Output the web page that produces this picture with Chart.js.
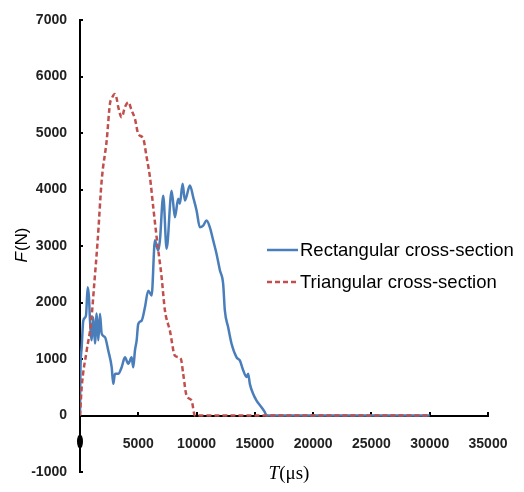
<!DOCTYPE html>
<html>
<head>
<meta charset="utf-8">
<script src="https://cdn.jsdelivr.net/npm/chart.js@4"></script>
<style>
  html, body { margin: 0; padding: 0; background: #fff; }
  #wrap { width: 524px; height: 492px; }
</style>
</head>
<body>
<div id="wrap"><canvas id="forceChart" width="524" height="492"></canvas></div>
<script>
// ============================================
// DATA
// ============================================
const seriesNames = ['Rectangular cross-section', 'Triangular cross-section'];

// Rectangular cross-section: time (µs) and force (N)
const rectT = [0, 30, 146, 283, 514, 660, 771, 857, 1003, 1140, 1286, 1431, 1568, 1714, 1860,
  2143, 2425, 2717, 2854, 3000, 3282, 3574, 3857, 4140, 4430, 4568, 4714, 4860, 4996, 5288,
  5570, 5853, 6145, 6428, 6710, 6856, 7140, 7430, 7860, 8140, 8425, 8570, 8800, 9000, 9430,
  9710, 10000, 10285, 10565, 10860, 11140, 11425, 11715, 12000, 12280, 12425, 12710, 13000,
  13430, 13710, 14000, 14285, 14425, 14570, 14850, 15145, 15570, 15855, 16000, 30000];
const rectF = [0, 700, 1210, 1680, 1770, 2270, 2090, 1680, 1330, 1740, 1275, 1805, 1330, 1800, 1450,
  1385, 1150, 855, 560, 740, 740, 855, 1030, 915, 1030, 855, 1150, 1330, 1620, 1680,
  1915, 2210, 2125, 3100, 2920, 3100, 3890, 2950, 3980, 3510, 3835, 3750, 4100, 3805, 4070,
  3865, 3630, 3330, 3360, 3450, 3330, 3100, 2860, 2570, 2330, 1860, 1560, 1270,
  1030, 975, 800, 680, 740, 560, 385, 265, 147, 60, 0, 0];

// Triangular cross-section: time (µs) and force (N)
const triT = [0, 146, 574, 943, 1225, 1517, 1860, 2290, 2570, 2717, 3000, 3145, 3282, 3574,
  3857, 4140, 4430, 4714, 4996, 5425, 5716, 6000, 6282, 6573, 7000, 7285, 7714, 8140, 8655,
  8850, 9145, 9570, 9855, 30000];
const triF = [0, 500, 1150, 1630, 2335, 3100, 4160, 4870, 5520, 5610, 5690, 5610, 5460, 5280,
  5460, 5545, 5400, 5250, 4985, 4900, 4570, 4220, 3690, 3155, 2450, 1860, 1500, 1060, 1000,
  740, 350, 265, 0, 0];

// Axis ticks
const xMin = 0, xMax = 35000, xStep = 5000;
const yMin = -1000, yMax = 7000, yStep = 1000;

const BLUE = '#4a7ebb';
const RED = '#c0504d';
const TICK_FONT = { family: '"Liberation Sans", Arial, sans-serif', size: 14, weight: 'bold' };

function toPoints(ts, fs) {
  return ts.map((t, i) => ({ x: t, y: fs[i] }));
}

// ============================================
// EXTRA DRAWING: axis titles, legend, "0" blob
// ============================================
const extrasPlugin = {
  id: 'extras',
  afterDraw(chart) {
    const ctx = chart.ctx;
    const xs = chart.scales.x;
    const ys = chart.scales.y;
    ctx.save();

    // filled mark where the x "0" label sits
    ctx.fillStyle = '#000';
    ctx.beginPath();
    ctx.ellipse(xs.getPixelForValue(0), ys.getPixelForValue(0) + 26, 3, 7, 0, 0, Math.PI * 2);
    ctx.fill();

    // y title: F(N), rotated
    ctx.save();
    ctx.translate(22, 245);
    ctx.rotate(-Math.PI / 2);
    ctx.textBaseline = 'middle';
    ctx.fillStyle = '#000';
    const fItal = 'italic 17px "Liberation Sans"';
    const fReg = '17px "Liberation Sans"';
    ctx.font = fItal;
    const w1 = ctx.measureText('F').width;
    ctx.font = fReg;
    const w2 = ctx.measureText('(N)').width;
    let sx = -(w1 + w2 + 1) / 2;
    ctx.font = fItal;
    ctx.fillText('F', sx, 0);
    ctx.font = fReg;
    ctx.fillText('(N)', sx + w1 + 1, 0);
    ctx.restore();

    // x title: T(µs)
    ctx.textBaseline = 'middle';
    ctx.fillStyle = '#000';
    const tItal = 'italic 19px "Liberation Serif"';
    const tReg = '19px "Liberation Serif"';
    ctx.font = tItal;
    const t1 = ctx.measureText('T').width;
    ctx.font = tReg;
    const t2 = ctx.measureText('(μs)').width;
    let tx = 289 - (t1 + t2) / 2;
    ctx.font = tItal;
    ctx.fillText('T', tx, 474);
    ctx.font = tReg;
    ctx.fillText('(μs)', tx + t1, 474);

    // legend
    const rows = [250, 282];
    chart.data.datasets.forEach((ds, i) => {
      const y = rows[i];
      ctx.strokeStyle = ds.borderColor;
      ctx.lineWidth = ds.borderWidth;
      ctx.setLineDash(ds.borderDash || []);
      ctx.beginPath();
      ctx.moveTo(267, y);
      ctx.lineTo(298, y);
      ctx.stroke();
      ctx.setLineDash([]);
      ctx.fillStyle = '#000';
      ctx.font = '18.5px "Liberation Sans"';
      ctx.textBaseline = 'middle';
      ctx.fillText(ds.label, 300, y + 1);
    });

    ctx.restore();
  }
};

// ============================================
// CHART
// ============================================
const ctx = document.getElementById('forceChart').getContext('2d');
const forceChart = new Chart(ctx, {
  type: 'line',
  data: {
    datasets: [{
      label: seriesNames[0],
      data: toPoints(rectT, rectF),
      borderColor: BLUE,
      borderWidth: 2.5,
      pointRadius: 0,
      cubicInterpolationMode: 'monotone',
      fill: false,
      order: 1
    }, {
      label: seriesNames[1],
      data: toPoints(triT, triF),
      borderColor: RED,
      borderWidth: 2.5,
      borderDash: [5, 3],
      pointRadius: 0,
      cubicInterpolationMode: 'monotone',
      fill: false,
      order: 0
    }]
  },
  options: {
    responsive: false,
    animation: false,
    layout: {
      padding: { left: 0, top: 20, right: 36, bottom: 20 }
    },
    plugins: {
      legend: { display: false },
      tooltip: { enabled: false }
    },
    scales: {
      x: {
        type: 'linear',
        position: { y: 0 },
        min: xMin,
        max: xMax,
        afterFit(scale) {
          scale.paddingLeft = 0;
          scale.paddingRight = 0;
        },
        ticks: {
          stepSize: xStep,
          padding: 25,
          color: '#222',
          font: TICK_FONT,
          maxRotation: 0,
          callback: (v) => (v === 0 ? '' : String(v))
        },
        grid: {
          drawOnChartArea: false,
          color: '#000',
          lineWidth: 2,
          tickLength: -5
        },
        border: { color: '#000', width: 2 }
      },
      y: {
        type: 'linear',
        min: yMin,
        max: yMax,
        afterFit(scale) {
          scale.width = 80;
          scale.paddingTop = 0;
          scale.paddingBottom = 0;
        },
        ticks: {
          stepSize: yStep,
          padding: 16,
          color: '#222',
          font: TICK_FONT,
          callback: (v) => String(v)
        },
        grid: {
          drawOnChartArea: false,
          color: '#000',
          lineWidth: 2,
          tickLength: -3
        },
        border: { color: '#000', width: 2 }
      }
    }
  },
  plugins: [extrasPlugin]
});
</script>
</body>
</html>
